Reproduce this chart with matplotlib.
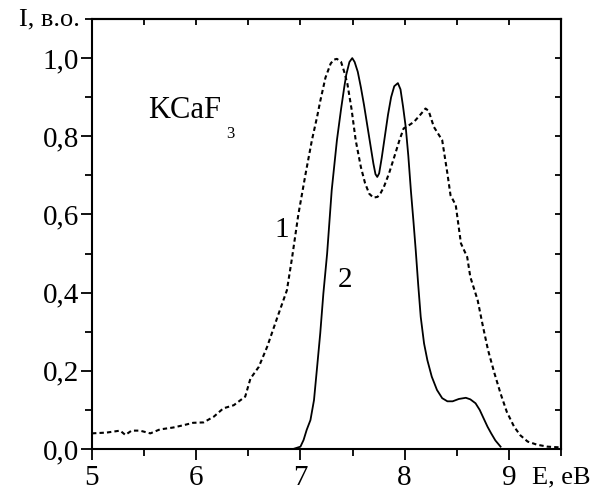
import matplotlib
matplotlib.use("Agg")
import matplotlib.pyplot as plt
from matplotlib.ticker import MultipleLocator, FixedLocator, FuncFormatter

plt.rcParams['font.family'] = ['Liberation Serif', 'DejaVu Serif']

# Curve 1 (dashed): KCaF3 spectrum
e1 = [5.00, 5.14, 5.27, 5.32, 5.38, 5.46, 5.56, 5.65, 5.78, 5.88, 5.97, 6.07,
      6.17, 6.26, 6.36, 6.47, 6.52, 6.60, 6.68, 6.78, 6.87, 6.92, 6.98, 7.05,
      7.11, 7.16, 7.19, 7.24, 7.29, 7.32, 7.35, 7.39, 7.42, 7.45, 7.49, 7.53,
      7.58, 7.62, 7.66, 7.70, 7.74, 7.77, 7.80, 7.85, 7.90, 7.95, 7.99, 8.04,
      8.09, 8.15, 8.20, 8.23, 8.28, 8.36, 8.41, 8.44, 8.49, 8.54, 8.60, 8.63,
      8.70, 8.75, 8.80, 8.86, 8.92, 8.98, 9.05, 9.11, 9.18, 9.27, 9.37, 9.50]
i1 = [0.040, 0.042, 0.047, 0.036, 0.047, 0.047, 0.040, 0.050, 0.055, 0.061, 0.067, 0.068,
      0.083, 0.104, 0.112, 0.134, 0.180, 0.210, 0.261, 0.338, 0.406, 0.490, 0.600, 0.705,
      0.790, 0.850, 0.890, 0.950, 0.986, 0.996, 0.998, 0.990, 0.965, 0.935, 0.870, 0.790,
      0.721, 0.680, 0.653, 0.643, 0.645, 0.655, 0.670, 0.705, 0.747, 0.790, 0.820, 0.828,
      0.837, 0.855, 0.871, 0.865, 0.824, 0.790, 0.705, 0.649, 0.624, 0.526, 0.491, 0.440,
      0.381, 0.315, 0.253, 0.195, 0.142, 0.095, 0.057, 0.035, 0.019, 0.011, 0.006, 0.004]

# Curve 2 (solid)
e2 = [6.93, 7.00, 7.03, 7.06, 7.096, 7.13, 7.16, 7.19, 7.22, 7.256, 7.30, 7.35,
      7.39, 7.42, 7.44, 7.47, 7.497, 7.52, 7.55, 7.58, 7.61, 7.64, 7.67, 7.70,
      7.72, 7.737, 7.755, 7.78, 7.81, 7.84, 7.87, 7.90, 7.935, 7.96, 7.985, 8.01,
      8.035, 8.06, 8.085, 8.106, 8.13, 8.154, 8.186, 8.218, 8.26, 8.31, 8.36, 8.41,
      8.46, 8.52, 8.587, 8.63, 8.68, 8.72, 8.76, 8.795, 8.83, 8.87, 8.92]
i2 = [0.000, 0.006, 0.023, 0.049, 0.074, 0.125, 0.210, 0.296, 0.398, 0.500, 0.662, 0.790,
      0.870, 0.925, 0.958, 0.990, 1.000, 0.990, 0.965, 0.925, 0.880, 0.830, 0.780, 0.730,
      0.703, 0.696, 0.705, 0.745, 0.800, 0.855, 0.900, 0.928, 0.936, 0.920, 0.875, 0.824,
      0.750, 0.660, 0.580, 0.509, 0.420, 0.338, 0.270, 0.227, 0.185, 0.151, 0.130, 0.122,
      0.122, 0.128, 0.131, 0.127, 0.117, 0.100, 0.077, 0.057, 0.040, 0.022, 0.006]

x_ticks = [5, 6, 7, 8, 9]
y_ticks = [0.0, 0.2, 0.4, 0.6, 0.8, 1.0]

fig = plt.figure(figsize=(6.07, 4.90), dpi=100)
ax = fig.add_axes([92/607, 1 - 449/490, (561-92)/607, (449-19)/490])

ax.plot(e1, i1, color='black', lw=1.5, linestyle=(0, (2.1, 1.5)))
ax.plot(e2, i2, color='black', lw=1.3)

ax.set_xlim(5, 9.5)
ax.set_ylim(0, 1.1)

for s in ax.spines.values():
    s.set_linewidth(1.5)

ax.xaxis.set_major_locator(FixedLocator(x_ticks))
ax.xaxis.set_minor_locator(MultipleLocator(0.5))
ax.yaxis.set_major_locator(FixedLocator(y_ticks))
ax.yaxis.set_minor_locator(MultipleLocator(0.1))
ax.yaxis.set_major_formatter(FuncFormatter(lambda v, p: f"{v:.1f}".replace('.', ',')))

ax.tick_params(axis='both', which='major', direction='out', length=8, width=1.3,
               labelsize=21, top=False, right=False)
ax.tick_params(axis='both', which='minor', direction='out', length=5, width=1.3,
               top=False, right=False)
ax.tick_params(axis='x', which='major', pad=3.5)
ax.tick_params(axis='y', which='major', pad=1.5)

# short inward ticks on the top and right frame
top = ax.secondary_xaxis('top')
top.xaxis.set_major_locator(MultipleLocator(0.5))
top.tick_params(direction='in', length=4, width=1.3, labeltop=False)
right = ax.secondary_yaxis('right')
right.yaxis.set_major_locator(MultipleLocator(0.1))
right.tick_params(direction='in', length=4, width=1.3, labelright=False)
for s in list(top.spines.values()) + list(right.spines.values()):
    s.set_linewidth(1.5)

ax.text(5.538, 0.846, "KCaF", fontsize=22, ha='left', va='baseline')
ax.text(6.288, 0.795, "3", fontsize=12, ha='left', va='baseline')
ax.text(6.822, 0.542, "1", fontsize=21, ha='center', va='baseline')
ax.text(7.423, 0.414, "2", fontsize=21, ha='center', va='baseline')

fig.text(80/607, 1 - 25/490, "I, в.о.", fontsize=19, ha='right', va='baseline')
fig.text(532/607, 1 - 483/490, "E, eB", fontsize=19, ha='left', va='baseline')

fig.savefig("out.png", dpi=100)
